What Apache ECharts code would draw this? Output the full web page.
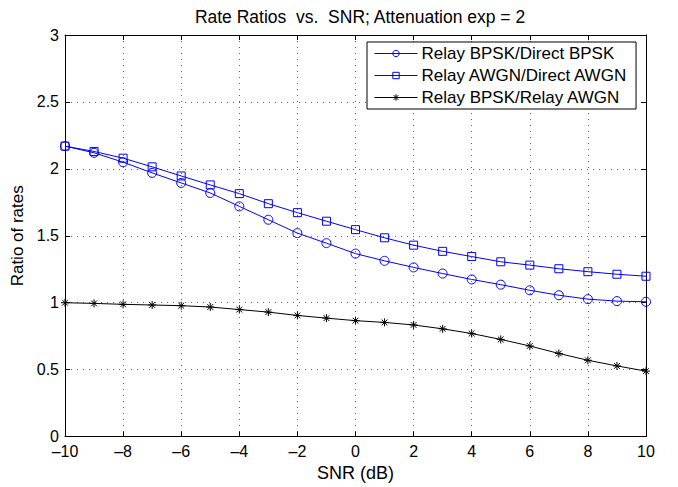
<!DOCTYPE html>
<html>
<head>
<meta charset="utf-8">
<script src="https://cdn.jsdelivr.net/npm/echarts@6/dist/echarts.min.js"></script>
<style>
  html, body { margin: 0; padding: 0; background: #fff; }
  #chart { width: 678px; height: 487px; }
</style>
</head>
<body>
<div id="chart"></div>
<script>
// SNR values (dB)
const snr = [-10, -9, -8, -7, -6, -5, -4, -3, -2, -1, 0, 1, 2, 3, 4, 5, 6, 7, 8, 9, 10];

const bpskDirect = [2.17, 2.12, 2.05, 1.97, 1.895, 1.82, 1.72, 1.62, 1.52, 1.445, 1.367,
  1.313, 1.264, 1.218, 1.174, 1.135, 1.093, 1.056, 1.027, 1.012, 1.007];
const awgnDirect = [2.17, 2.13, 2.08, 2.015, 1.947, 1.88, 1.815, 1.74, 1.673, 1.609, 1.546,
  1.485, 1.43, 1.384, 1.345, 1.306, 1.281, 1.254, 1.232, 1.213, 1.198];
const bpskAwgn = [1.0, 0.995, 0.988, 0.983, 0.978, 0.968, 0.949, 0.93, 0.905, 0.885, 0.866,
  0.853, 0.834, 0.805, 0.77, 0.726, 0.677, 0.621, 0.57, 0.528, 0.489];

const seriesNames = ['Relay BPSK/Direct BPSK', 'Relay AWGN/Direct AWGN', 'Relay BPSK/Relay AWGN'];

const font = '"Liberation Sans", Arial, sans-serif';
// matlab style asterisk marker
const star = 'path://M0,-5L0,5M-5,0L5,0M-3.6,-3.6L3.6,3.6M-3.6,3.6L3.6,-3.6';

function pairs(ys) {
  return snr.map((x, i) => [x, ys[i]]);
}

const chart = echarts.init(document.getElementById('chart'), null, { renderer: 'svg' });

const axisBase = {
  axisLine: { show: true, onZero: false, lineStyle: { color: '#000', width: 1 } },
  axisTick: { show: true, inside: true, length: 5, lineStyle: { color: '#000' } },
  axisLabel: {
    color: '#000', fontSize: 16, fontFamily: font,
    formatter: v => String(v).replace('-', '\u2013')
  }
};

const gridLine = { show: true, lineStyle: { color: '#666', type: [1, 5], width: 1 } };

chart.setOption({
  animation: false,
  backgroundColor: '#fff',
  title: {
    text: 'Rate Ratios  vs.  SNR; Attenuation exp = 2',
    left: 355,
    textAlign: 'center',
    top: 3,
    textStyle: { fontSize: 17.5, fontWeight: 'normal', color: '#000', fontFamily: font }
  },
  legend: {
    orient: 'vertical',
    left: 367,
    top: 42,
    backgroundColor: '#fff',
    borderColor: '#000',
    borderWidth: 1,
    padding: [3, 8, 3, 7],
    itemGap: 5,
    itemWidth: 43,
    itemHeight: 8,
    lineStyle: { width: 1 },
    itemStyle: { borderWidth: 1 },
    textStyle: { fontSize: 17, color: '#000', fontFamily: font, padding: [0, 0, 0, -1] },
    data: seriesNames
  },
  grid: { left: 65, right: 32, top: 35, bottom: 43 },
  xAxis: [
    {
      ...axisBase,
      type: 'value', min: -10, max: 10, interval: 2,
      position: 'bottom',
      name: 'SNR (dB)', nameLocation: 'middle', nameGap: 27,
      nameTextStyle: { fontSize: 18, color: '#000', fontFamily: font },
      axisLabel: { ...axisBase.axisLabel, margin: 8, lineHeight: 13 },
      splitLine: gridLine
    },
    {
      ...axisBase,
      type: 'value', min: -10, max: 10, interval: 2,
      position: 'top',
      axisLabel: { show: false },
      splitLine: { show: false }
    }
  ],
  yAxis: [
    {
      ...axisBase,
      type: 'value', min: 0, max: 3, interval: 0.5,
      position: 'left',
      name: 'Ratio of rates', nameLocation: 'middle', nameGap: 31,
      nameTextStyle: { fontSize: 17, color: '#000', fontFamily: font },
      axisLabel: { ...axisBase.axisLabel, margin: 6, lineHeight: 12 },
      splitLine: gridLine
    },
    {
      ...axisBase,
      type: 'value', min: 0, max: 3, interval: 0.5,
      position: 'right',
      axisLabel: { show: false },
      splitLine: { show: false }
    }
  ],
  series: [
    {
      name: seriesNames[0],
      type: 'line',
      data: pairs(bpskDirect),
      symbol: 'circle',
      symbolSize: 9,
      lineStyle: { color: '#0000ff', width: 1 },
      itemStyle: { color: 'none', borderColor: '#0000ff', borderWidth: 1 }
    },
    {
      name: seriesNames[1],
      type: 'line',
      data: pairs(awgnDirect),
      symbol: 'rect',
      symbolSize: 8,
      lineStyle: { color: '#0000ff', width: 1 },
      itemStyle: { color: 'none', borderColor: '#0000ff', borderWidth: 1 }
    },
    {
      name: seriesNames[2],
      type: 'line',
      data: pairs(bpskAwgn),
      symbol: star,
      symbolSize: 8,
      lineStyle: { color: '#000', width: 1 },
      itemStyle: { color: 'none', borderColor: '#000', borderWidth: 1 }
    }
  ]
});
</script>
</body>
</html>
